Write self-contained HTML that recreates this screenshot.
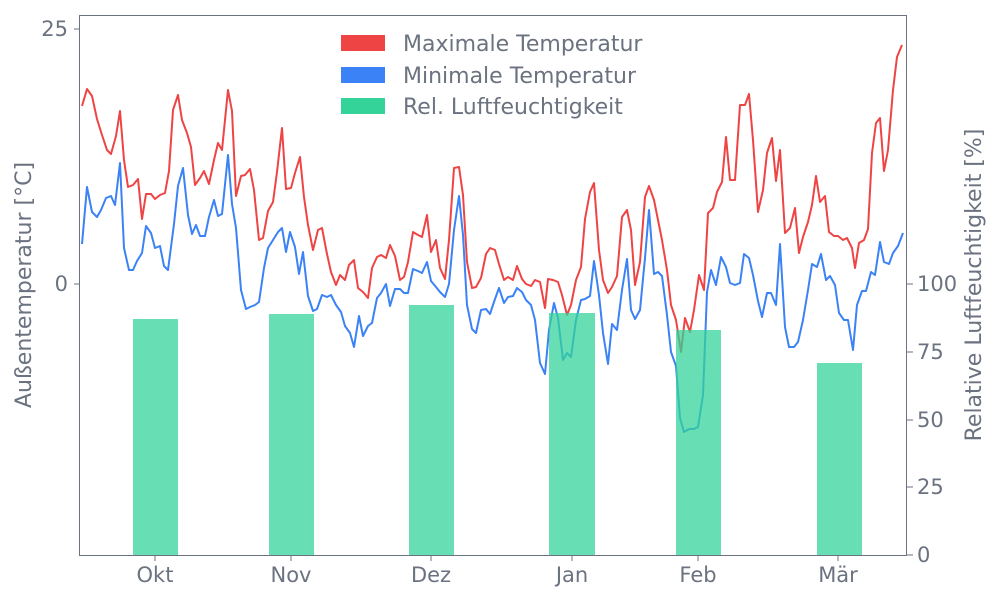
<!DOCTYPE html>
<html><head><meta charset="utf-8"><style>body{margin:0;background:#fff}svg{display:block}text{font-family:"DejaVu Sans",sans-serif;fill:#6b7280}</style></head><body>
<svg width="1000" height="600" viewBox="0 0 1000 600">
<polyline fill="none" stroke="#ef4444" stroke-width="2" stroke-linejoin="round" points="82,106 87,89 92,96 97,119 102,135 107,150 111,154 116,136 120,111 124,160 128,187 133,185 138,179 142,219 146,194 151,194 155,199 160,195 165,193 169,171 173,110 178,95 182,120 187,133 191,147 195,185 200,178 204,171 209,184 214,160 218,143 222,150 228,90 232,111 236,196 241,176 245,175 250,169 254,190 259,240 263,238 268,211 273,202 277,172 282,128 286,189 291,188 295,173 300,157 304,197 308,225 313,250 318,230 322,228 327,254 331,272 336,285 340,275 345,280 349,265 354,260 358,288 363,292 368,298 372,268 377,257 381,255 386,258 390,245 395,256 400,280 404,277 408,262 413,232 418,235 422,237 427,215 431,252 436,240 440,268 445,279 449,240 454,168 459,167 463,195 467,262 472,288 476,287 481,278 486,254 490,248 495,250 499,264 504,280 508,277 513,280 517,266 522,279 526,284 531,286 535,280 540,282 545,308 548,279 553,280 558,282 562,295 567,315 571,305 576,280 581,267 585,219 590,192 594,183 599,250 603,280 608,293 612,287 617,276 622,217 627,210 631,230 635,285 640,262 645,197 649,186 654,200 658,220 662,240 667,270 671,305 676,320 681,352 685,318 690,332 694,310 699,275 704,290 708,213 713,208 717,192 722,182 726,137 730,180 735,180 740,105 745,105 749,94 753,140 758,212 763,190 767,153 772,138 776,181 780,150 785,233 790,228 795,208 799,253 803,237 808,222 812,205 816,176 820,202 825,196 829,232 834,236 838,236 843,240 847,238 852,248 855,268 859,243 864,240 868,229 872,153 876,123 880,118 884,171 888,150 893,90 897,57 902,45"/>
<polyline fill="none" stroke="#3b82f6" stroke-width="2" stroke-linejoin="round" points="82,244 87,187 92,212 97,217 101,210 106,198 111,196 115,205 120,163 124,248 129,270 133,270 137,261 142,253 146,226 151,233 155,248 160,246 164,266 168,270 174,224 178,186 183,168 188,215 192,234 196,225 200,236 205,236 209,217 214,200 218,216 222,214 228,155 232,204 236,228 241,290 246,309 250,307 255,305 259,302 264,268 268,248 273,240 278,232 282,228 286,252 290,232 295,247 299,274 303,252 308,296 313,311 317,309 322,295 327,297 331,295 336,305 341,312 345,326 350,333 354,347 359,316 363,336 368,326 372,323 377,298 381,293 386,284 390,306 395,289 400,289 404,293 408,293 413,269 418,271 422,273 427,262 431,281 436,287 440,292 445,297 449,284 454,230 459,196 463,235 467,305 472,329 476,333 481,310 486,309 490,314 495,299 499,288 504,303 508,297 513,296 517,288 522,292 526,300 531,305 535,320 540,363 545,374 549,330 554,303 558,318 563,360 567,353 571,357 576,320 581,300 585,299 590,296 594,261 599,295 603,333 608,364 612,324 617,330 622,290 627,259 631,310 635,319 640,310 645,258 649,210 654,274 658,272 662,276 667,315 671,352 676,366 680,418 684,432 689,429 694,429 698,427 703,395 707,292 711,270 716,285 721,257 726,267 730,283 735,285 740,283 744,254 749,258 753,275 758,301 762,317 767,293 771,293 776,305 780,244 785,327 789,347 794,347 798,342 803,320 808,290 812,264 817,267 821,254 826,280 830,276 835,285 839,313 844,320 848,320 853,350 857,305 862,291 866,291 871,272 875,275 880,242 884,262 889,264 893,253 898,246 903,233"/>
<g fill="#34d399" fill-opacity="0.75">
<rect x="133" y="319" width="45" height="236"/>
<rect x="269" y="314" width="45" height="241"/>
<rect x="409" y="305" width="45" height="250"/>
<rect x="549" y="313" width="46" height="242"/>
<rect x="676" y="330" width="45" height="225"/>
<rect x="817" y="363" width="45" height="192"/>
</g>
<rect x="79.5" y="15.5" width="827" height="540" fill="none" stroke="#6b7280" stroke-width="1"/>
<g stroke="#6b7280">
<line x1="74" y1="29" x2="80" y2="29"/><line x1="74" y1="284" x2="80" y2="284"/>
<line x1="907" y1="555" x2="913" y2="555"/><line x1="907" y1="487" x2="913" y2="487"/><line x1="907" y1="420" x2="913" y2="420"/><line x1="907" y1="352" x2="913" y2="352"/><line x1="907" y1="284" x2="913" y2="284"/>
<line x1="155" y1="555" x2="155" y2="561"/><line x1="291" y1="555" x2="291" y2="561"/><line x1="431" y1="555" x2="431" y2="561"/><line x1="572" y1="555" x2="572" y2="561"/><line x1="698" y1="555" x2="698" y2="561"/><line x1="838" y1="555" x2="838" y2="561"/>
</g>
<g font-size="21">
<text x="68" y="36" text-anchor="end">25</text>
<text x="68" y="291" text-anchor="end">0</text>
<g text-anchor="start">
<text x="917" y="562">0</text><text x="917" y="494">25</text><text x="917" y="427">50</text><text x="917" y="359">75</text><text x="917" y="291">100</text>
</g>
<g text-anchor="middle">
<text x="155" y="582">Okt</text><text x="291" y="582">Nov</text><text x="431" y="582">Dez</text><text x="572" y="582">Jan</text><text x="698" y="582">Feb</text><text x="838" y="582">Mär</text>
</g>
</g>
<g font-size="22">
<text transform="translate(31,285) rotate(-90)" text-anchor="middle">Außentemperatur [°C]</text>
<text transform="translate(981,285) rotate(-90)" text-anchor="middle">Relative Luftfeuchtigkeit [%]</text>
<rect x="341" y="35" width="44" height="16" fill="#ef4444"/>
<rect x="341" y="67" width="44" height="16" fill="#3b82f6"/>
<rect x="341" y="98" width="44" height="16" fill="#34d399"/>
<text x="403" y="51">Maximale Temperatur</text>
<text x="403" y="83">Minimale Temperatur</text>
<text x="403" y="114">Rel. Luftfeuchtigkeit</text>
</g>
</svg>
</body></html>
